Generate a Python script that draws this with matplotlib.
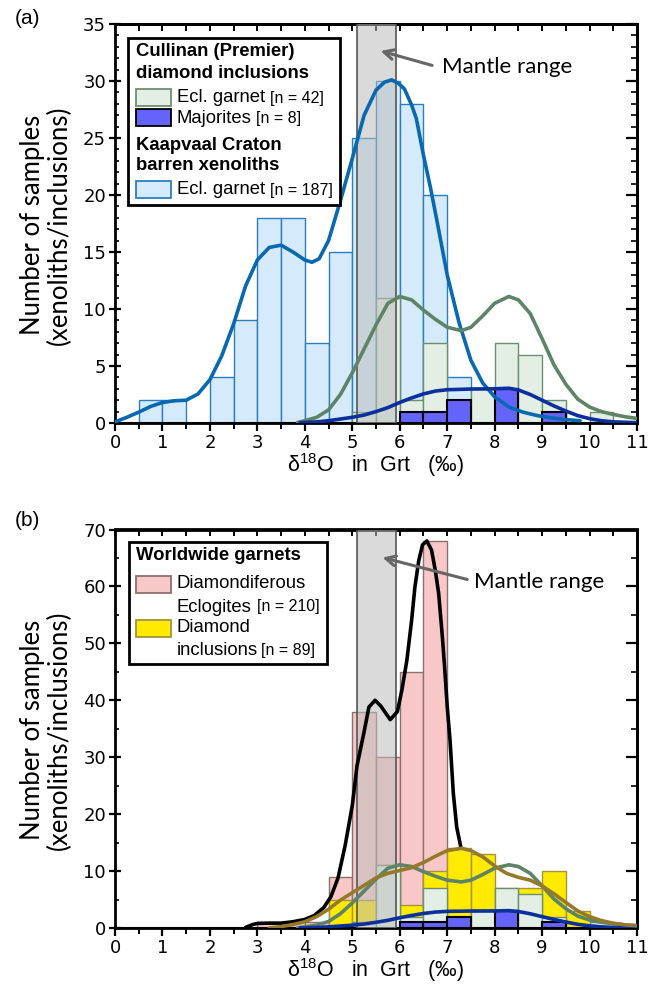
import matplotlib.pyplot as plt
from matplotlib.patches import Rectangle
import numpy as np

# histogram bins, 0.5 wide, from 0 to 11 (left edges)
bin_left = np.arange(0, 11, 0.5)

# panel (a) counts per bin
kaapvaal = [0, 2, 2, 0, 4, 9, 18, 18, 7, 15, 25, 30, 28, 20, 4, 2, 1, 1, 1, 0, 0, 0]
cullinan = [0, 0, 0, 0, 0, 0, 0, 0, 0, 0, 1, 11, 2, 7, 2, 3, 7, 6, 2, 0, 1, 0]
majorite = [0, 0, 0, 0, 0, 0, 0, 0, 0, 0, 0, 0, 1, 1, 2, 0, 3, 0, 1, 0, 0, 0]
# panel (b) counts per bin
eclogite = [0, 0, 0, 0, 0, 0, 1, 1, 1, 9, 38, 30, 45, 68, 10, 5, 2, 0, 0, 0, 0, 0]
incl = [0, 0, 0, 0, 0, 0, 0, 0, 0, 5, 5, 11, 4, 10, 14, 13, 7, 7, 10, 3, 0, 0]

# fitted curves
kaap_x = [0, 0.25, 0.5, 0.75, 1.0, 1.25, 1.5, 1.75, 2.0, 2.25, 2.5, 2.75, 3.0, 3.25, 3.5, 3.75,
          4.0, 4.15, 4.3, 4.5, 4.75, 5.0, 5.25, 5.5, 5.68, 5.83, 5.97, 6.1, 6.25, 6.35, 6.5, 6.65,
          6.8, 7.0, 7.25, 7.5, 7.75, 8.0, 8.3, 8.6, 8.9, 9.2, 9.5, 9.8]
kaap_y = [0.1, 0.5, 0.95, 1.45, 1.8, 1.95, 2.0, 2.55, 3.8, 5.9, 8.7, 12.0, 14.3, 15.4, 15.6, 15.0,
          14.3, 14.1, 14.4, 16.0, 19.5, 23.2, 27.0, 29.2, 29.9, 30.1, 29.8, 29.3, 27.9, 26.7, 23.5, 20.6,
          17.4, 13.0, 8.8, 5.5, 3.5, 2.3, 1.4, 0.95, 0.65, 0.45, 0.3, 0.2]
cull_x = [3.85, 4.0, 4.25, 4.5, 4.75, 5.0, 5.25, 5.5, 5.75, 6.0, 6.25, 6.5, 6.75, 7.0, 7.3, 7.5,
          7.75, 8.0, 8.3, 8.5, 8.75, 9.0, 9.25, 9.5, 9.75, 10.0, 10.25, 10.5, 10.75, 11.0]
cull_y = [0.05, 0.2, 0.5, 1.15, 2.5, 4.4, 6.5, 8.6, 10.5, 11.1, 10.8, 9.9, 9.1, 8.4, 8.1, 8.4,
          9.4, 10.5, 11.1, 10.8, 9.6, 7.4, 5.1, 3.4, 2.1, 1.4, 1.0, 0.75, 0.55, 0.4]
maj_x = [3.9, 4.25, 4.5, 4.75, 5.0, 5.25, 5.5, 5.75, 6.0, 6.25, 6.5, 6.75, 7.0, 7.5, 8.0, 8.3,
         8.5, 8.75, 9.0, 9.25, 9.5, 9.75, 10.0, 10.25, 10.5, 11.0]
maj_y = [0.02, 0.1, 0.2, 0.35, 0.5, 0.7, 1.0, 1.35, 1.8, 2.2, 2.55, 2.8, 2.92, 2.98, 3.0, 3.05,
         2.9, 2.5, 2.0, 1.5, 1.05, 0.65, 0.38, 0.2, 0.1, 0.03]
ecl_x = [2.75, 2.9, 3.0, 3.25, 3.5, 3.75, 4.0, 4.2, 4.4, 4.55, 4.7, 4.85, 5.0, 5.1, 5.25, 5.35,
         5.48, 5.6, 5.8, 5.95, 6.05, 6.15, 6.25, 6.32, 6.4, 6.48, 6.57, 6.67, 6.75, 6.82, 6.9,
         6.95, 7.0, 7.06, 7.13, 7.2, 7.29]
ecl_y = [0.1, 0.6, 0.8, 0.85, 0.85, 1.1, 1.5, 2.2, 3.6, 5.5, 8.8, 14.5, 21.5, 28.5, 34.5, 38.8,
         40.0, 39.0, 36.6, 38.0, 42.0, 47.0, 54.0, 59.9, 64.5, 67.3, 68.0, 66.4, 62.8, 58.8, 51.0,
         45.3, 39.0, 33.0, 23.6, 17.75, 14.1]
inc_x = [3.25, 3.5, 3.75, 4.0, 4.25, 4.5, 4.75, 5.0, 5.25, 5.5, 5.75, 6.0, 6.25, 6.5, 6.75, 7.0,
         7.3, 7.5, 7.75, 8.0, 8.25, 8.5, 8.75, 9.0, 9.25, 9.5, 9.75, 10.0, 10.25, 10.5, 10.75, 11.0]
inc_y = [0.0, 0.25, 0.6, 1.1, 2.0, 3.3, 4.9, 6.2, 7.5, 8.8, 9.6, 10.1, 10.6, 11.5, 12.6, 13.6,
         14.0, 13.6, 12.5, 10.9, 9.6, 8.9, 8.4, 7.4, 6.0, 4.5, 3.0, 2.0, 1.3, 0.85, 0.55, 0.4]

mantle = (5.11, 5.92)

W, H = 660, 997
fig = plt.figure(figsize=(6.6, 9.97), dpi=100)


def P(X, Y):
    return X / W, 1 - Y / H


def setup(ax, ymax, ymaj, ymin):
    ax.set_xlim(0, 11)
    ax.set_ylim(0, ymax)
    for s in ax.spines.values():
        s.set_linewidth(2)
    ax.set_xticks(range(12))
    ax.set_xticks(np.arange(0, 11.01, 0.5), minor=True)
    ax.set_yticks(np.arange(0, ymax + 0.1, ymaj))
    ax.set_yticks(np.arange(0, ymax + 0.1, ymin), minor=True)
    ax.tick_params(axis='x', which='major', direction='out', length=6, width=1.6,
                   labelsize=13, pad=2)
    ax.tick_params(axis='x', which='minor', direction='out', length=4, width=1.4)
    ax.tick_params(axis='y', which='major', direction='inout', length=9, width=1.6,
                   labelsize=13, pad=2)
    ax.tick_params(axis='y', which='minor', direction='in', length=3, width=1.2)
    for lab in ax.get_xticklabels() + ax.get_yticklabels():
        lab.set_fontfamily('DejaVu Sans')
    top = ax.secondary_xaxis('top')
    top.set_xticks(range(12))
    top.set_xticks(np.arange(0, 11.01, 0.5), minor=True)
    top.tick_params(which='both', direction='in', length=5, width=1.4, labeltop=False)
    right = ax.secondary_yaxis('right')
    right.set_yticks(np.arange(0, ymax + 0.1, ymaj))
    right.set_yticks(np.arange(0, ymax + 0.1, ymin), minor=True)
    right.tick_params(which='major', direction='in', length=8, width=1.6, labelright=False)
    right.tick_params(which='minor', direction='in', length=4, width=1.2)
    for s in list(top.spines.values()) + list(right.spines.values()):
        s.set_linewidth(2)


def band(ax):
    ax.axvspan(mantle[0], mantle[1], facecolor='#bcbcbc', alpha=0.55, edgecolor='none', zorder=4)
    for xv in mantle:
        ax.axvline(xv, color='#555555', lw=1.2, zorder=4)


def hist(ax, counts, face, edge, lw=1.0, z=2):
    ax.bar(bin_left, counts, width=0.5, align='edge', color=face, edgecolor=edge,
           linewidth=lw, zorder=z)


def swatch(X, Y, face, edge):
    x0, y0 = P(X, Y + 17)
    fig.add_artist(Rectangle((x0, y0), 35 / W, 17 / H, transform=fig.transFigure,
                             facecolor=face, edgecolor=edge, linewidth=1.3, zorder=6))


def legtext(X, Y, s, **kw):
    fig.text(*P(X, Y), s, va='center', ha='left', family='Liberation Sans', zorder=7, **kw)


def legbox(X0, Y0, X1, Y1):
    x0, y0 = P(X0, Y1)
    fig.add_artist(Rectangle((x0, y0), (X1 - X0) / W, (Y1 - Y0) / H, transform=fig.transFigure,
                             facecolor='white', edgecolor='black', linewidth=2, zorder=5))


c_blue_face, c_blue_edge = '#d5ebfb', '#2b7ec3'
c_grn_face, c_grn_edge = '#e3efe4', '#6c8f72'
c_maj_face = '#6464fa'
c_pink_face, c_pink_edge = '#f8c8c9', '#8e6f6f'
c_yel_face, c_yel_edge = '#ffea00', '#a39440'

# ---------------- panel (a)
axa = fig.add_axes([115 / W, 1 - 423 / H, 522 / W, 399 / H])
setup(axa, 35, 5, 1)
hist(axa, kaapvaal, c_blue_face, c_blue_edge)
hist(axa, cullinan, c_grn_face, c_grn_edge, z=2.1)
hist(axa, majorite, c_maj_face, 'black', lw=1.5, z=2.2)
band(axa)
axa.plot(kaap_x, kaap_y, color='#0868b0', lw=2.6, zorder=5, solid_capstyle='round')
axa.plot(cull_x, cull_y, color='#5d8466', lw=2.6, zorder=5, solid_capstyle='round')
axa.plot(maj_x, maj_y, color='#0b2f9c', lw=2.6, zorder=5, solid_capstyle='round')
axa.annotate('', xy=(5.54, 32.7), xytext=(6.74, 31.3),
             arrowprops=dict(arrowstyle='->,head_length=0.7,head_width=0.35', color='#666666', lw=2.2),
             zorder=6)
axa.text(6.9, 31.2, 'Mantle range', fontsize=16, family='Lato', va='center', ha='left', zorder=6)

legbox(128, 38, 340, 205)
legtext(136, 52, 'Cullinan (Premier)', fontsize=13.3, weight='bold')
legtext(136, 73, 'diamond inclusions', fontsize=13.3, weight='bold')
swatch(136, 89, c_grn_face, c_grn_edge)
legtext(177, 98, 'Ecl. garnet', fontsize=13.3)
legtext(270, 98, '[n = 42]', fontsize=11.5)
swatch(136, 109, c_maj_face, 'black')
legtext(177, 118, 'Majorites', fontsize=13.3)
legtext(256, 118, '[n = 8]', fontsize=11.5)
legtext(136, 145, 'Kaapvaal Craton', fontsize=13.3, weight='bold')
legtext(136, 166, 'barren xenoliths', fontsize=13.3, weight='bold')
swatch(136, 181, c_blue_face, c_blue_edge)
legtext(177, 190, 'Ecl. garnet', fontsize=13.3)
legtext(270, 190, '[n = 187]', fontsize=11.5)

# ---------------- panel (b)
axb = fig.add_axes([115 / W, 1 - 928 / H, 522 / W, 398.5 / H])
setup(axb, 70, 10, 5)
hist(axb, eclogite, c_pink_face, c_pink_edge)
hist(axb, incl, c_yel_face, c_yel_edge, z=2.1)
hist(axb, cullinan, c_grn_face, c_grn_edge, z=2.2)
hist(axb, majorite, c_maj_face, 'black', lw=1.5, z=2.3)
band(axb)
axb.plot(ecl_x, ecl_y, color='black', lw=2.6, zorder=5, solid_capstyle='round')
axb.plot(cull_x, cull_y, color='#5d8466', lw=2.6, zorder=5, solid_capstyle='round')
axb.plot(maj_x, maj_y, color='#0b2f9c', lw=2.6, zorder=5, solid_capstyle='round')
axb.plot(inc_x, inc_y, color='#957a2c', lw=2.6, zorder=5.1, solid_capstyle='round')
axb.annotate('', xy=(5.58, 65.2), xytext=(7.48, 61.1),
             arrowprops=dict(arrowstyle='->,head_length=0.7,head_width=0.35', color='#666666', lw=2.2),
             zorder=6)
axb.text(7.57, 60.8, 'Mantle range', fontsize=16, family='Lato', va='center', ha='left', zorder=6)

legbox(129, 542, 327, 664)
legtext(136, 556, 'Worldwide garnets', fontsize=13.3, weight='bold')
swatch(136, 576, c_pink_face, c_pink_edge)
legtext(177, 584, 'Diamondiferous', fontsize=13.3)
legtext(177, 607, 'Eclogites', fontsize=13.3)
legtext(257, 607, '[n = 210]', fontsize=11.5)
swatch(136, 620, c_yel_face, c_yel_edge)
legtext(177, 628, 'Diamond', fontsize=13.3)
legtext(177, 650, 'inclusions', fontsize=13.3)
legtext(261, 650, '[n = 89]', fontsize=11.5)

# ---------------- shared labels
plt.rcParams['mathtext.fontset'] = 'custom'
plt.rcParams['mathtext.rm'] = 'Liberation Sans'
for yc, ytop, lab in [(225, 18, '(a)'), (730, 520, '(b)')]:
    fig.text(*P(33, yc), 'Number of samples', rotation=90, fontsize=18.5, family='Lato',
             ha='center', va='center')
    fig.text(*P(59, yc), '(xenoliths/inclusions)', rotation=90, fontsize=18.5, family='Lato',
             ha='center', va='center')
    fig.text(*P(27, ytop), lab, fontsize=15, family='Liberation Sans', ha='center', va='center')
for yl in [465, 970]:
    fig.text(*P(376, yl), r'$\mathregular{\delta^{18}}$O   in  Grt   (‰)', fontsize=15.5,
             family='Liberation Sans', ha='center', va='center')

fig.savefig('out.png', dpi=100)
